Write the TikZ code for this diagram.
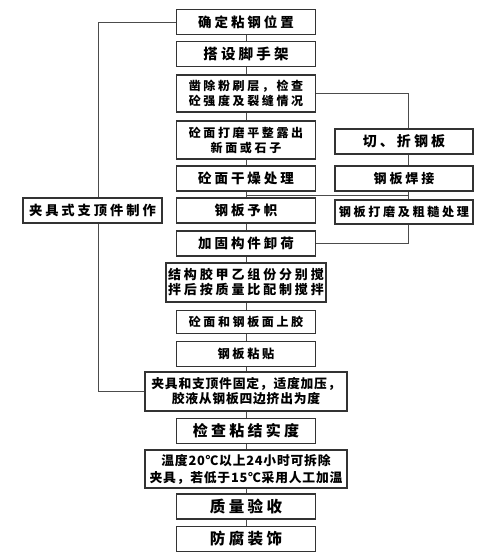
\documentclass[tikz,border=0pt]{standalone}
\usepackage{fontspec}
\newfontfamily\cjk[LetterSpace=22]{Noto Sans CJK SC Black}
\newfontfamily\cjkn[LetterSpace=6]{Noto Sans CJK SC Black}
\tikzset{
  box/.style={draw=black!80,line width=1.1pt,minimum width=139pt,minimum height=25pt,
    inner sep=1pt,align=center,font=\cjk\fontsize{13.5}{15}\selectfont},
  wide/.style={box,minimum width=202pt,minimum height=39pt,font=\cjkn\fontsize{12.8}{15}\selectfont},
  link/.style={draw=black!70,line width=0.8pt}
}
\begin{document}
\begin{tikzpicture}[x=1pt,y=-1pt]
   \useasboundingbox (0,0) rectangle (491,558);
   % main column
   \node [box] (locate) at (246,22) {确定粘钢位置};
   \node [box,font=\cjk\fontsize{14.5}{15}\selectfont] (scaffold) at (246,54) {搭设脚手架};
   \node [box,minimum height=37pt,font=\cjk\fontsize{12}{15}\selectfont] (chisel) at (246,93.5) {凿除粉刷层，检查\\砼强度及裂缝情况};
   \node [box,minimum height=38pt,font=\cjk\fontsize{12}{15}\selectfont] (grind) at (246,140) {砼面打磨平整露出\\新面或石子};
   \node [box] (dry) at (246,178.5) {砼面干燥处理};
   \node [box] (preform) at (246,210.5) {钢板予帜};
   \node [box] (unload) at (246,243.5) {加固构件卸荷};
   \node [box,minimum width=160pt,minimum height=39pt,font=\cjk\fontsize{13}{15}\selectfont] (mix) at (246,282.5) {结构胶甲乙组份分别搅\\拌后按质量比配制搅拌};
   \node [box,minimum height=23pt,font=\cjk\fontsize{12}{15}\selectfont] (glue) at (246,322) {砼面和钢板面上胶};
   \node [box,font=\cjk\fontsize{12.2}{15}\selectfont] (stick) at (246,354) {钢板粘贴};
   \node [wide] (clamp) at (246,391.5) {夹具和支顶件固定，适度加压，\\胶液从钢板四边挤出为度};
   \node [box,font=\cjk\fontsize{15}{15}\selectfont] (check) at (246,431) {检查粘结实度};
   \node [wide,minimum height=38pt,font=\cjkn\fontsize{12.8}{17}\selectfont] (cure) at (246,469) {温度20℃以上24小时可拆除\\夹具，若低于15℃采用人工加温};
   \node [box,font=\cjk\fontsize{15.5}{15}\selectfont] (accept) at (246,506.5) {质量验收};
   \node [box,font=\cjk\fontsize{15.5}{15}\selectfont] (coat) at (246,539) {防腐装饰};
   % side columns
   \node [box,minimum width=138pt,font=\cjk\fontsize{14}{15}\selectfont] (cut) at (404,141.5) {切、折钢板};
   \node [box,minimum width=138pt,font=\cjk\fontsize{13}{15}\selectfont] (weld) at (404,178.5) {钢板焊接};
   \node [box,minimum width=138pt,minimum height=24pt,font=\cjk\fontsize{12.1}{15}\selectfont] (rough) at (404,212) {钢板打磨及粗糙处理};
   \node [box,font=\cjk\fontsize{13.3}{15}\selectfont] (jig) at (92.5,210.5) {夹具式支顶件制作};
   % links
   \foreach \a/\b in {locate/scaffold,scaffold/chisel,chisel/grind,grind/dry,dry/preform,
     preform/unload,unload/mix,mix/glue,glue/stick,stick/clamp,clamp/check,check/cure,
     cure/accept,accept/coat}
     \draw [link] (\a) -- (\b);
   \coordinate (join) at (408,195);
   \draw [link] (locate.west) -| ([xshift=5.5pt]jig.north);
   \draw [link] ([xshift=5.5pt]jig.south) |- (clamp.west);
   \draw [link] (chisel.east) -| ([xshift=4pt]cut.north);
   \draw [link] ([xshift=4pt]cut.south) -- ([xshift=4pt]weld.north);
   \draw [link] ([xshift=4pt]weld.south) -- ([xshift=4pt]rough.north);
   \draw [link] (dry.south |- join) -- (join);
   \draw [link] ([xshift=4pt]rough.south) |- (unload.east);
\end{tikzpicture}
\end{document}
